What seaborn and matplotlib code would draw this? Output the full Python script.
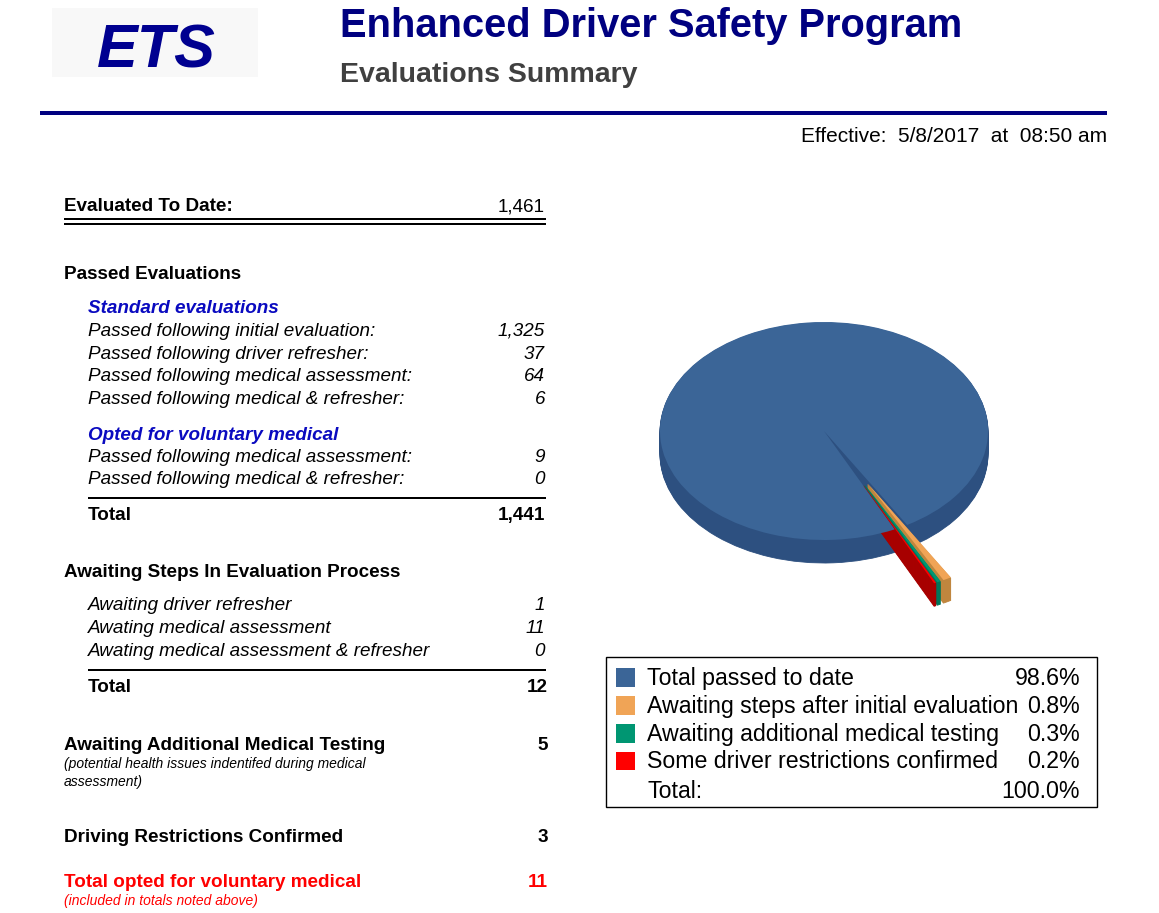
"""Enhanced Driver Safety Program - evaluations summary sheet with 3D-style pie."""

import matplotlib.pyplot as plt
import seaborn as sns
from matplotlib.patches import Rectangle

sns.set_theme(style="white")
plt.rcParams["font.family"] = ["Liberation Sans", "DejaVu Sans"]

W, H, DPI = 1159, 913, 100

# ---- data -------------------------------------------------------------
evaluated_to_date = 1461
standard_labels = [
    "Passed following initial evaluation:",
    "Passed following driver refresher:",
    "Passed following medical assessment:",
    "Passed following medical & refresher:",
]
standard_values = [1325, 37, 64, 6]
voluntary_labels = [
    "Passed following medical assessment:",
    "Passed following medical & refresher:",
]
voluntary_values = [9, 0]
awaiting_labels = [
    "Awaiting driver refresher",
    "Awating medical assessment",
    "Awating medical assessment & refresher",
]
awaiting_values = [1, 11, 0]
medical_testing = 5
restrictions_confirmed = 3
voluntary_total = 11

pie_labels = [
    "Total passed to date",
    "Awaiting steps after initial evaluation",
    "Awaiting additional medical testing",
    "Some driver restrictions confirmed",
]
pie_values = [1441, 12, 5, 3]
pie_colors = ["#3b6597", "#f0a456", "#009672", "#ff0000"]
side_colors = ["#2d5080", "#c0863e", "#00755a", "#a80000"]
pie_explode = [0, 0.55, 0.55, 0.55]

NAVY = "#000080"
SUB_BLUE = "#0a0ac0"
RED = "#ff0000"

fig = plt.figure(figsize=(W / DPI, H / DPI), dpi=DPI)
ax = fig.add_axes([0, 0, 1, 1])
ax.set_xlim(0, W)
ax.set_ylim(H, 0)
ax.axis("off")


def txt(x, y, s, size=13.6, ha="left", weight="normal", style="normal", color="black", **kw):
    ax.text(x, y, s, fontsize=size, ha=ha, va="baseline", fontweight=weight,
            fontstyle=style, color=color, **kw)


def hline(y, x0, x1, lw=2.0, color="black"):
    ax.plot([x0, x1], [y, y], color=color, lw=lw * 72 / DPI, solid_capstyle="butt")


# ---- header -------------------------------------------------------------
ax.add_patch(Rectangle((52, 8), 206, 69, color="#f8f8f8", lw=0))
txt(156, 68, "ETS", size=44, ha="center", weight="bold", style="italic", color="#000090")
txt(340, 37, "Enhanced Driver Safety Program", size=28.7, weight="bold", color=NAVY)
txt(340, 82, "Evaluations Summary", size=20.5, weight="bold", color="#404040")
hline(113.5, 40, 1107, lw=4, color=NAVY)
txt(1107, 142, "Effective:  5/8/2017  at  08:50 am", size=15, ha="right")

# ---- left summary table -------------------------------------------------
LX, IX, VX = 64, 88, 545

txt(LX, 211, "Evaluated To Date:", weight="bold")
txt(VX, 211, f"{evaluated_to_date:,}", ha="right")
hline(219, LX, 546)
hline(224.5, LX, 546)

txt(LX, 279, "Passed Evaluations", weight="bold")
txt(IX, 313, "Standard evaluations", weight="bold", style="italic", color=SUB_BLUE)
for i, (lab, val) in enumerate(zip(standard_labels, standard_values)):
    y = 336 + i * 22.7
    txt(IX, y, lab, style="italic")
    txt(VX, y, f"{val:,}", ha="right", style="italic")
txt(IX, 440, "Opted for voluntary medical", weight="bold", style="italic", color=SUB_BLUE)
for i, (lab, val) in enumerate(zip(voluntary_labels, voluntary_values)):
    y = 462 + i * 22.5
    txt(IX, y, lab, style="italic")
    txt(VX, y, f"{val:,}", ha="right", style="italic")
hline(498, IX, 546)
txt(IX, 520, "Total", weight="bold")
txt(VX, 520, f"{sum(standard_values) + sum(voluntary_values):,}", ha="right", weight="bold")

txt(LX, 577, "Awaiting Steps In Evaluation Process", weight="bold")
for i, (lab, val) in enumerate(zip(awaiting_labels, awaiting_values)):
    y = 610 + i * 23
    txt(IX, y, lab, style="italic")
    txt(VX, y, f"{val:,}", ha="right", style="italic")
hline(670, IX, 546)
txt(IX, 692, "Total", weight="bold")
txt(548, 692, f"{sum(awaiting_values):,}", ha="right", weight="bold")

txt(LX, 750, "Awaiting Additional Medical Testing", weight="bold")
txt(548, 750, f"{medical_testing}", ha="right", weight="bold")
txt(LX, 768, "(potential health issues indentifed during medical", size=10, style="italic")
txt(LX, 786, "assessment)", size=10, style="italic")

txt(LX, 842, "Driving Restrictions Confirmed", weight="bold")
txt(548, 842, f"{restrictions_confirmed}", ha="right", weight="bold")

txt(LX, 887, "Total opted for voluntary medical", weight="bold", color=RED)
txt(548, 887, f"{voluntary_total}", ha="right", weight="bold", color=RED)
txt(LX, 905, "(included in totals noted above)", size=10, style="italic", color=RED)

# ---- 3D-style pie -------------------------------------------------------
CX, CY, RX, RY, DEPTH = 824, 431, 164, 109, 23
xlim, ylim = (-1.2, 1.2), (-1.9, 1.2)
left = CX + xlim[0] * RX
top = CY - ylim[1] * RY
pw, ph = (xlim[1] - xlim[0]) * RX, (ylim[1] - ylim[0]) * RY
pax = fig.add_axes([left / W, 1 - (top + ph) / H, pw / W, ph / H])
pax.patch.set_alpha(0)

total = sum(pie_values)
group = sum(pie_values[1:]) / total * 360
start = -62 - group / 2
depth_units = DEPTH / RY
n_layers = DEPTH
# side walls: stacked copies of the pie, shifted down, in darker shades
for k in range(n_layers, 0, -1):
    wedges, _ = pax.pie(pie_values, colors=side_colors, explode=pie_explode,
                        startangle=start, counterclock=False,
                        center=(0, -k * depth_units / n_layers),
                        wedgeprops=dict(linewidth=0.6))
    for j, w in enumerate(wedges):
        w.set_edgecolor(side_colors[j])
        w.set_zorder(1 if j == 0 else 2)
# top face
wedges, _ = pax.pie(pie_values, colors=pie_colors, explode=pie_explode,
                    startangle=start, counterclock=False, center=(0, 0),
                    wedgeprops=dict(linewidth=0))
for j, w in enumerate(wedges):
    w.set_zorder(3 if j == 0 else 4)
pax.set_aspect("auto")
pax.set_xlim(*xlim)
pax.set_ylim(*ylim)
pax.axis("off")

# ---- legend box ---------------------------------------------------------
ax.add_patch(Rectangle((605.5, 657.5), 491, 150, fill=False, ec="black", lw=1.0))
for i, (lab, val, col) in enumerate(zip(pie_labels, pie_values, pie_colors)):
    y = 685 + i * 27.8
    ax.add_patch(Rectangle((616, y - 16.5), 19, 18.5, color=col, lw=0))
    txt(647, y, lab, size=16.7)
    txt(1080, y, f"{val / total * 100:.1f}%", size=16.7, ha="right")
txt(647, 798, "Total:", size=16.7)
txt(1080, 798, f"{100:.1f}%", size=16.7, ha="right")

fig.savefig("out.png", dpi=DPI)
